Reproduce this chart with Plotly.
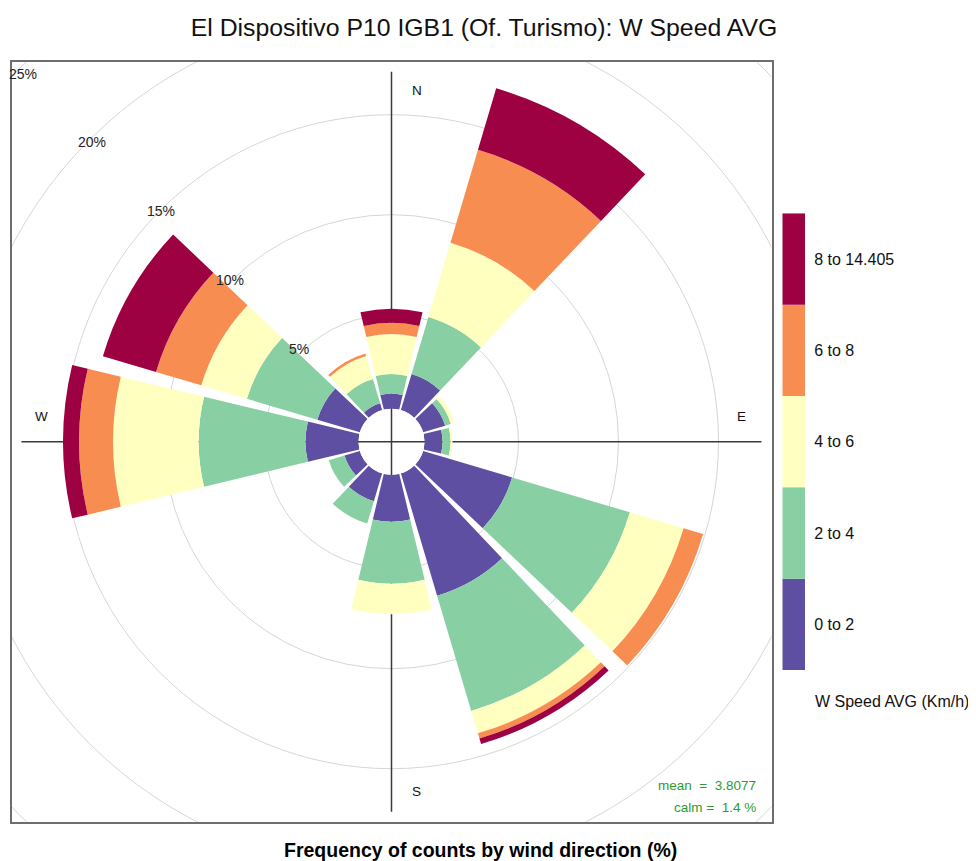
import plotly.graph_objects as go

# ---------------- data ----------------
directions = [0, 30, 60, 90, 120, 150, 180, 210, 240, 270, 300, 330]
speed_bins = ["0 to 2", "2 to 4", "4 to 6", "6 to 8", "8 to 14.405"]
freq_0_2 = [1.05, 2.18, 1.45, 1.20, 4.94, 6.68, 2.65, 1.75, 1.10, 2.95, 2.52, 0.65]
freq_2_4 = [0.98, 2.97, 0.30, 0.40, 6.14, 6.01, 3.10, 1.17, 0.82, 5.34, 3.67, 1.27]
freq_4_6 = [2.00, 3.88, 0.18, 0.10, 2.80, 1.17, 1.52, 0.00, 0.00, 4.28, 2.38, 1.20]
freq_6_8 = [0.57, 4.84, 0.00, 0.00, 1.02, 0.27, 0.00, 0.00, 0.00, 1.70, 2.36, 0.13]
freq_8_14 = [0.70, 3.21, 0.00, 0.00, 0.00, 0.29, 0.00, 0.00, 0.00, 0.80, 2.77, 0.00]
bin_colors = ["#5E4FA2", "#88CFA4", "#FFFFBF", "#F88D51", "#9E0142"]
grid_pcts = [5, 10, 15, 20, 25]
compass = ["N", "E", "S", "W"]
mean_speed = 3.8077
calm_pct = 1.4
title_text = "El Dispositivo P10 IGB1 (Of. Turismo): W Speed AVG"
xlabel_text = "Frequency of counts by wind direction (%)"
legend_title = "W Speed AVG (Km/h)"

# ---------------- geometry / style (page pixels) ----------------
PAGE_W, PAGE_H = 976, 861
BODY = 8                       # default page margin around the figure
FW, FH = PAGE_W - BODY, PAGE_H - BODY


def fx(x):
    return (x - BODY) / FW


def fy(y):
    return (FH - (y - BODY)) / FH


CX, CY = 391.5, 441.7          # rose centre
PXU = 20.0                     # pixels per percent
OFF = 27.0 / PXU               # radius of the 0 % line (units)
HOLE_PX = 33.0
POLAR_R_PX = 383.0
INNER = HOLE_PX / PXU - OFF    # radial value at the calm-circle edge
RMAX = INNER + (POLAR_R_PX - HOLE_PX) / PXU
HALF = 380.0                   # half size of the square frame
HU = HALF / PXU
FONT = "Liberation Sans, Arial, Helvetica, sans-serif"
WEDGE = 27

series = [freq_0_2, freq_2_4, freq_4_6, freq_6_8, freq_8_14]

fig = go.Figure()

fig.add_trace(go.Scatter(x=[None], y=[None], xaxis="x", yaxis="y",
                         showlegend=False, hoverinfo="skip"))

cum = [0.0] * len(directions)
for name, vals, col in zip(speed_bins, series, bin_colors):
    base = [max(c, INNER) for c in cum]
    top = [c + v for c, v in zip(cum, vals)]
    r = [(t - b) if v > 0 else 0 for t, b, v in zip(top, base, vals)]
    fig.add_trace(go.Barpolar(
        r=r, base=base, theta=directions, width=WEDGE, name=name,
        marker=dict(color=col, line=dict(width=0)),
        subplot="polar", showlegend=False,
        customdata=vals, hovertemplate="%{theta}°: %{customdata:.2f}%<extra>" + name + "</extra>",
    ))
    cum = top

# colour key
fig.add_trace(go.Bar(
    x=[0] * len(speed_bins), y=[1] * len(speed_bins),
    base=list(range(len(speed_bins))), width=1,
    marker=dict(color=bin_colors, line=dict(width=0)),
    xaxis="x2", yaxis="y2", showlegend=False, hoverinfo="skip",
))

# ---------------- shapes ----------------
shapes = []
for p in grid_pcts:
    rr = OFF + p
    shapes.append(dict(type="circle", xref="x", yref="y", x0=-rr, x1=rr, y0=-rr, y1=rr,
                       line=dict(color="#D6D6D6", width=1), layer="below"))
LL = 370.0 / PXU
shapes.append(dict(type="line", xref="x", yref="y", x0=0, x1=0, y0=-LL, y1=LL,
                   line=dict(color="#3A3A3A", width=1.5), layer="below"))
shapes.append(dict(type="line", xref="x", yref="y", x0=-LL, x1=LL, y0=0, y1=0,
                   line=dict(color="#3A3A3A", width=1.5), layer="below"))

# ---------------- annotations ----------------
ann = []
comp_pos = {"N": (1.25, 17.55), "E": (17.5, 1.25), "S": (1.25, -17.5), "W": (-17.5, 1.25)}
for c in compass:
    x, y = comp_pos[c]
    ann.append(dict(x=x, y=y, xref="x", yref="y", text=c, showarrow=False,
                    font=dict(family=FONT, size=13.5, color="#111")))
for p in grid_pcts:
    k = p / 5.0
    rl = (34 + 97.3 * k) / PXU
    ann.append(dict(x=-rl * 0.7071, y=rl * 0.7071, xref="x", yref="y", text=f"{p}%",
                    showarrow=False, font=dict(family=FONT, size=14, color="#222")))
ann.append(dict(x=(758 - CX) / PXU, y=(CY - 785) / PXU, xref="x", yref="y", xanchor="right",
                text=f"mean\u00a0\u00a0=\u00a0\u00a0{mean_speed}", showarrow=False,
                font=dict(family=FONT, size=13.5, color="#2E9B2E")))
ann.append(dict(x=(758 - CX) / PXU, y=(CY - 807) / PXU, xref="x", yref="y", xanchor="right",
                text=f"calm\u00a0=\u00a0\u00a0{calm_pct} %", showarrow=False,
                font=dict(family=FONT, size=13.5, color="#2E9B2E")))
ann.append(dict(x=fx(480), y=fy(850), xref="paper", yref="paper", yanchor="middle",
                text=f"<b>{xlabel_text}</b>", showarrow=False,
                font=dict(family=FONT, size=19.5, color="#000")))
ann.append(dict(x=fx(813), y=fy(701), xref="paper", yref="paper", xanchor="left",
                yanchor="middle", text=legend_title, showarrow=False,
                font=dict(family=FONT, size=16, color="#111")))

fig.update_layout(
    width=FW, height=FH,
    margin=dict(l=0, r=0, t=0, b=0),
    paper_bgcolor="white", plot_bgcolor="white",
    showlegend=False,
    title=dict(text=title_text, x=fx(484), y=fy(27), xanchor="center", yanchor="middle",
               font=dict(family=FONT, size=24.8, color="#111")),
    xaxis=dict(domain=[fx(CX - HALF), fx(CX + HALF)], range=[-HU, HU],
               showgrid=False, zeroline=False, showticklabels=False, ticks="",
               showline=True, mirror=True, linecolor="#6E6E6E", linewidth=1.6,
               fixedrange=True, anchor="y"),
    yaxis=dict(domain=[fy(CY + HALF), fy(CY - HALF)], range=[-HU, HU],
               showgrid=False, zeroline=False, showticklabels=False, ticks="",
               showline=True, mirror=True, linecolor="#6E6E6E", linewidth=1.6,
               fixedrange=True, anchor="x"),
    xaxis2=dict(domain=[fx(782.3), fx(805)], range=[-0.5, 0.5], visible=False,
                anchor="y2", fixedrange=True),
    yaxis2=dict(domain=[fy(670), fy(213.3)], range=[0, len(speed_bins)],
                tickvals=[i + 0.5 for i in range(len(speed_bins))], ticktext=speed_bins,
                side="right", anchor="x2", showgrid=False, zeroline=False, showline=False,
                ticks="outside", ticklen=5, tickcolor="rgba(0,0,0,0)",
                tickfont=dict(family=FONT, size=16, color="#111"), fixedrange=True),
    polar=dict(
        domain=dict(x=[fx(CX - POLAR_R_PX), fx(CX + POLAR_R_PX)],
                    y=[fy(CY + POLAR_R_PX), fy(CY - POLAR_R_PX)]),
        bgcolor="rgba(0,0,0,0)",
        hole=HOLE_PX / POLAR_R_PX,
        barmode="overlay",
        radialaxis=dict(range=[INNER, RMAX], visible=False, showgrid=False),
        angularaxis=dict(rotation=90, direction="clockwise", visible=False, showgrid=False),
    ),
    shapes=shapes,
    annotations=ann,
)

fig.write_html("out.html")
